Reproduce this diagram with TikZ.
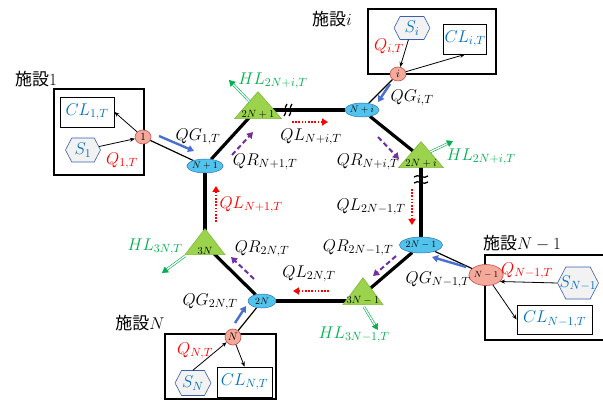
\RequirePackage{fix-cm}
\documentclass[tikz,border=0pt]{standalone}
\usepackage{fontspec}
\newfontfamily\cjk{Noto Sans CJK JP}
\usetikzlibrary{shapes.geometric,shapes.symbols,arrows.meta,calc}
\pgfdeclarelayer{bg}
\pgfsetlayers{bg,main}

\definecolor{hubfill}{HTML}{52C3EC}
\definecolor{hubedge}{HTML}{2E75B6}
\definecolor{trifill}{HTML}{9BD34C}
\definecolor{triedge}{HTML}{7DB83A}
\definecolor{facfill}{HTML}{F4A99B}
\definecolor{facedge}{HTML}{C0504D}
\definecolor{hexfill}{HTML}{F2F2F2}
\definecolor{hexedge}{HTML}{3A5FB0}
\definecolor{cltext}{HTML}{0070C0}
\definecolor{qred}{HTML}{FF0000}
\definecolor{hlgreen}{HTML}{00B050}
\definecolor{qrpurple}{HTML}{7030A0}
\definecolor{qgblue}{HTML}{4A6FCF}

\tikzset{
  hub/.style={ellipse, fill=hubfill, draw=hubedge, line width=0.5pt, inner sep=0pt,
    minimum width=28pt, minimum height=14pt, font=\fontsize{9.5}{10}\selectfont},
  tri/.style={isosceles triangle, shape border rotate=90, isosceles triangle stretches,
    inner sep=0pt, fill=trifill, draw=triedge, line width=0.6pt},
  trilbl/.style={inner sep=0pt, anchor=south, font=\fontsize{10.5}{11}\selectfont},
  fac/.style={ellipse, fill=facfill, draw=facedge, line width=0.6pt, inner sep=0pt,
    font=\fontsize{11}{12}\selectfont},
  facbox/.style={line width=1.6pt},
  clbox/.style={rectangle, draw=black, line width=0.8pt, inner sep=1pt, text=cltext,
    font=\fontsize{17}{19}\selectfont},
  hex/.style={signal, signal to=east and west, signal pointer angle=125, fill=hexfill,
    draw=hexedge, line width=0.6pt, inner sep=0pt, text=cltext,
    font=\fontsize{17}{19}\selectfont},
  lbl/.style={inner sep=0pt, font=\fontsize{17}{19}\selectfont},
  cjklbl/.style={inner sep=0pt, font=\fontsize{17}{19}\selectfont\cjk},
  ring/.style={line width=3.2pt, black},
  link/.style={line width=1.2pt, black},
  brk/.style={line width=1.3pt, black},
  thinarr/.style={line width=0.8pt, -{Stealth[length=5pt,width=4pt]}},
  qg/.style={draw=qgblue, line width=2.4pt, -{Triangle[length=6pt,width=7pt]}},
  qr/.style={draw=qrpurple, line width=2pt, dash pattern=on 5pt off 3pt,
    -{Triangle[length=6pt,width=7pt]}},
  ql/.style={draw=qred, line width=2pt, dash pattern=on 1.6pt off 1.6pt,
    -{Triangle[length=6pt,width=7pt]}},
  hl/.style={draw=hlgreen, double=white, line width=0.6pt, double distance=1.3pt,
    -{Triangle[length=6pt,width=7pt]}},
}

\begin{document}
\begin{tikzpicture}[x=1pt,y=-1pt]
\useasboundingbox (0,0) rectangle (603,401);
\begin{pgfonlayer}{bg}
\fill[white] (0,0) rectangle (603,401);
\end{pgfonlayer}

% ring hubs
\node[hub] (h1) at (205,166) {$N+1$};
\node[hub] (h2) at (362,110) {$N+i$};
\node[hub, minimum width=33pt, minimum height=16pt] (h3) at (421,245) {$2N-1$};
\node[hub] (h4) at (262,301) {$2N$};

% ring junctions
\node[tri, minimum width=47pt, minimum height=27pt, anchor=south] (t1) at (258,119) {};
\node[tri, minimum width=45pt, minimum height=26pt, anchor=south] (t2) at (421,168) {};
\node[tri, minimum width=40pt, minimum height=27pt, anchor=south] (t3) at (363,305) {};
\node[tri, minimum width=40pt, minimum height=26pt, anchor=south] (t4) at (205,255) {};
\node[trilbl] (t1l) at ([yshift=0.5pt]t1.south) {$2N+1$};
\node[trilbl] (t2l) at ([yshift=0.5pt]t2.south) {$2N+i$};
\node[trilbl] (t3l) at ([yshift=0.5pt]t3.south) {$3N-1$};
\node[trilbl] (t4l) at ([yshift=0.5pt]t4.south) {$3N$};

% ring edges
\begin{pgfonlayer}{bg}
\draw[ring] (h1) -- (t1.center);
\draw[ring] (h2) -- (h2 -| t1);
\draw[ring] (h2) -- (t2.center);
\draw[ring] (t2.center) -- (h3);
\draw[ring] (h3) -- (t3.center);
\draw[ring] (h4) -- (h4 -| t3);
\draw[ring] (h4) -- (t4.center);
\draw[ring] (t4.center) -- (h1);
\end{pgfonlayer}

% break marks on the ring
\draw[brk] (284,116) .. controls (288,112) and (283,108) .. (287,104);
\draw[brk] (289,116) .. controls (293,112) and (288,108) .. (292,104);
\draw[brk] (414,177) .. controls (418,173) and (424,180) .. (428,176);
\draw[brk] (414,183) .. controls (418,179) and (424,186) .. (428,182);

% facility boxes
\draw[facbox] (54,89) rectangle (144,175);
\draw[facbox] (368,9) rectangle (496,74);
\draw[facbox] (603,255) -- (485,255) -- (485,340) -- (603,340);
\draw[facbox] (165,334) rectangle (276,399);

% facility contents
\node[clbox, minimum width=54pt, minimum height=30pt] (cl1) at (87,112) {$CL_{1,T}$};
\node[clbox, minimum width=42pt, minimum height=30pt] (cli) at (465,39) {$CL_{i,T}$};
\node[clbox, minimum width=75pt, minimum height=29pt] (clN1) at (554.5,319.5) {$CL_{N-1,T}$};
\node[clbox, minimum width=55pt, minimum height=30pt] (clN) at (244.5,382) {$CL_{N,T}$};

\node[hex, minimum width=35pt, minimum height=24pt] (s1) at (83,150) {\makebox[0pt]{$S_1$}};
\node[hex, minimum width=36pt, minimum height=23pt] (si) at (412,28) {\makebox[0pt]{$S_i$}};
\node[hex, minimum width=41pt, minimum height=32pt] (sN1) at (578,283) {\makebox[0pt]{$S_{N-1}$}};
\node[hex, minimum width=36pt, minimum height=25pt] (sN) at (193,383) {\makebox[0pt]{$S_N$}};

% facility nodes
\node[fac, minimum width=16pt, minimum height=14pt] (f1) at (143,137) {$1$};
\node[fac, minimum width=16pt, minimum height=14pt] (fi) at (398,74) {$i$};
\node[fac, minimum width=29pt, minimum height=21pt, font=\fontsize{9}{10}\selectfont] (fN1) at (486,275) {$N-1$};
\node[fac, minimum width=16pt, minimum height=16pt] (fN) at (233,337) {$N$};

% facility to ring links
\begin{pgfonlayer}{bg}
\draw[link] (f1) -- (h1);
\draw[link] (fi) -- (h2);
\draw[link] (fN1) -- (h3);
\draw[link] (fN) -- (h4);
\end{pgfonlayer}

% internal flows
\draw[thinarr] (s1) -- (f1);
\draw[thinarr] (f1) -- (cl1.east);
\draw[thinarr] (si) -- (fi);
\draw[thinarr] (fi) -- (cli.south);
\draw[thinarr] (sN1.west) -- (fN1.-25);
\draw[thinarr] (fN1) -- (clN1.west);
\draw[thinarr] (sN.north) -- (fN);
\draw[thinarr] (fN) -- (clN.north);

% supply flows
\draw[qg] (159,136) -- (194,151);
\draw[qg] (390,84) -- (378,102);
\draw[qg] (466,267) -- (432,257);
\draw[qg] (235,323) -- (246,306);

% ring flows
\draw[qr] (232,155) -- (253,132);
\draw[qr] (378,137) -- (399,159);
\draw[qr] (254,279) -- (231,257);
\draw[qr] (396,256) -- (373,276);

\draw[ql] (292,122) -- (328,122);
\draw[ql] (216,222) -- (216,186);
\draw[ql] (412,189) -- (412,225);
\draw[ql] (329,291) -- (293,291);

% heat losses
\draw[hl] (250,102) -- (229,80);
\draw[hl] (430,152) -- (453,141);
\draw[hl] (185,256) -- (162,273);
\draw[hl] (364,307) -- (378,330);

% labels
\node[cjklbl] (n1) at (36,79) {施設$1$};
\node[cjklbl] (ni) at (332,19) {施設$i$};
\node[cjklbl] (nN1) at (522,243) {施設$N-1$};
\node[cjklbl] (nN) at (140,323) {施設$N$};

\node[lbl, text=qred] (q1) at (122,161) {$Q_{1,T}$};
\node[lbl, text=qred] (qi) at (389,47) {$Q_{i,T}$};
\node[lbl, text=qred] (qN1) at (527,271) {$Q_{N-1,T}$};
\node[lbl, text=qred] (qN) at (195,351) {$Q_{N,T}$};

\node[lbl] (qg1) at (198,137) {$QG_{1,T}$};
\node[lbl] (qgi) at (412,98) {$QG_{i,T}$};
\node[lbl] (qgN1) at (438,280) {$QG_{N-1,T}$};
\node[lbl] (qgN) at (210,302) {$QG_{2N,T}$};

\node[lbl] (qlNi) at (311,137) {$QL_{N+i,T}$};
\node[lbl, text=qred] (qlN1) at (251,205) {$QL_{N+1,T}$};
\node[lbl] (ql2N1) at (371,207) {$QL_{2N-1,T}$};
\node[lbl] (ql2N) at (309,274) {$QL_{2N,T}$};

\node[lbl] (qrN1) at (265,162) {$QR_{N+1,T}$};
\node[lbl] (qrNi) at (368,162) {$QR_{N+i,T}$};
\node[lbl] (qr2N) at (262,249) {$QR_{2N,T}$};
\node[lbl] (qr2N1) at (358,248) {$QR_{2N-1,T}$};

\node[lbl, text=hlgreen] (hl1) at (273,81) {$HL_{2N+i,T}$};
\node[lbl, text=hlgreen] (hl2) at (481,157) {$HL_{2N+i,T}$};
\node[lbl, text=hlgreen] (hl3) at (155,247) {$HL_{3N,T}$};
\node[lbl, text=hlgreen] (hl4) at (354,335) {$HL_{3N-1,T}$};
\end{tikzpicture}
\end{document}
